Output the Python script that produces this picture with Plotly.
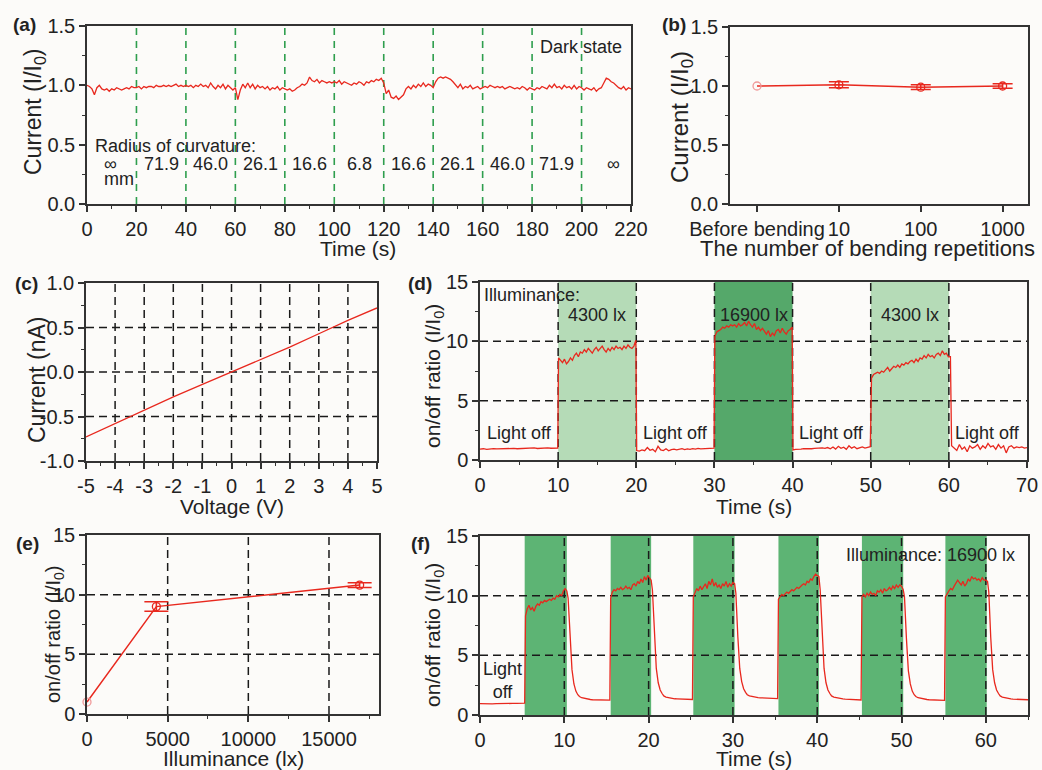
import numpy as np
import plotly.graph_objects as go

# ---------------- DATA ----------------
# (a) dark current vs time under bending, sampled every 1 s
time_a = list(range(0, 221))
current_a = (
    [1.00, 0.99, 0.97, 0.92, 0.98, 1.00] +
    [0.97, 0.96, 0.97, 0.95, 0.97, 0.96, 0.98, 0.97, 0.96, 0.97, 0.98, 0.97, 0.99, 0.98, 0.98] +
    [0.99, 0.97, 0.99, 0.98, 0.99, 0.99, 0.98, 1.00, 0.99, 0.99, 1.00, 0.99, 1.00, 0.99, 1.00, 1.01, 0.99, 1.00, 0.99, 1.00] +
    [0.99, 1.00, 0.98, 1.00, 0.99, 1.01, 0.99, 1.00, 0.98, 1.02, 0.99, 0.97, 1.00, 0.98, 1.01, 0.97, 1.00, 0.98, 0.96, 0.98] +
    [0.88, 0.96, 1.01, 0.98, 1.02, 0.98, 1.01, 0.97, 1.00, 0.98, 0.99, 0.97, 0.99, 0.96, 0.98, 0.97, 0.99, 0.96, 0.98, 0.97] +
    [0.96, 0.97, 0.95, 0.96, 0.98, 0.99, 1.01, 1.00, 1.02, 1.07, 1.04, 1.03, 1.05, 1.02, 1.04, 1.03, 1.02, 1.03, 1.02, 1.03] +
    [1.02, 1.04, 1.01, 1.03, 1.02, 1.01, 1.00, 1.02, 1.01, 1.03, 1.02, 1.00, 1.03, 1.02, 1.04, 1.03, 1.05, 1.04, 1.06, 1.02] +
    [0.93, 0.96, 0.90, 0.89, 0.91, 0.88, 0.90, 0.92, 0.97, 0.99, 0.97, 1.00, 0.98, 1.01, 0.99, 1.02, 0.99, 1.01, 1.00, 0.98] +
    [1.03, 1.06, 1.07, 1.06, 1.07, 1.06, 1.05, 1.03, 1.00, 0.98, 1.01, 0.97, 0.99, 0.98, 1.00, 0.97, 0.98, 0.99, 0.97, 0.98] +
    [0.99, 0.98, 1.00, 0.99, 0.98, 0.99, 0.98, 0.99, 0.97, 0.98, 0.99, 0.98, 0.97, 0.98, 0.97, 0.99, 0.98, 0.96, 0.98, 0.97] +
    [0.96, 0.98, 0.97, 0.99, 0.98, 0.97, 1.00, 0.98, 1.01, 0.98, 0.99, 0.97, 1.00, 0.98, 0.99, 0.97, 1.00, 0.97, 0.99, 0.98] +
    [0.96, 0.98, 0.97, 0.96, 0.98, 0.95, 0.97, 0.98, 1.02, 1.06, 1.05, 1.03, 1.02, 1.00, 0.98, 0.97, 0.99, 0.96, 0.98, 0.97]
)
bend_change_times = [20, 40, 60, 80, 100, 120, 140, 160, 180, 200]
radius_labels = ["\u221e", "71.9", "46.0", "26.1", "16.6", "6.8", "16.6", "26.1", "46.0", "71.9", "\u221e"]
radius_label_times = [9.5, 30, 50, 70, 90, 110, 130, 150, 170, 190, 213]

# (b) current after bending repetitions
bend_categories = ["Before bending", "10", "100", "1000"]
bend_current = [1.00, 1.01, 0.99, 1.00]
bend_error = [0.0, 0.025, 0.02, 0.02]

# (c) I-V curve
voltage_c = [-5, -4, -3, -2, -1, 0, 1, 2, 3, 4, 5]
current_c = [-0.73, -0.58, -0.43, -0.28, -0.14, 0.0, 0.14, 0.28, 0.43, 0.58, 0.72]

# (d) on/off ratio under different illuminance; segments (t_start, t_end, values)
d_segments = [
    (0.0, 9.95, [0.92, 0.95, 0.90, 0.94, 0.96, 0.93, 0.95, 0.97, 0.94, 0.96, 0.98, 0.95, 0.97, 1.00, 0.96, 0.99, 1.02, 0.97, 1.00, 0.98, 1.03, 0.99, 1.01, 1.00]),
    (10.05, 19.95, [8.6, 8.4, 8.2, 8.5, 8.1, 8.3, 8.6, 8.4, 8.8, 9.0, 8.7, 9.1, 9.0, 9.3, 9.1, 9.4, 9.2, 9.0, 9.3, 9.5,
                    9.2, 9.4, 9.6, 9.3, 9.1, 9.4, 9.2, 9.5, 9.3, 9.6, 9.4, 9.5, 9.3, 9.6, 9.4, 9.7, 9.5, 9.4, 9.6, 10.1]),
    (20.05, 29.95, [0.80, 0.75, 0.85, 0.78, 1.05, 0.82, 0.90, 0.70, 1.15, 0.85, 0.80, 0.95, 0.78, 0.88, 0.92,
                    0.85, 0.90, 0.95, 0.88, 0.93, 0.90, 0.95, 0.92, 0.98, 0.94, 0.96, 0.99, 0.95, 0.97, 1.00]),
    (30.05, 39.95, [10.4, 10.8, 10.9, 11.0, 11.2, 11.1, 11.3, 11.2, 11.4, 11.3, 11.4, 11.2, 11.5, 11.3, 11.4, 11.6, 11.3, 11.7, 11.4, 11.2,
                    11.5, 11.0, 11.2, 10.9, 11.1, 10.8, 10.6, 10.9, 10.4, 10.7, 10.5, 10.9, 11.0, 10.7, 11.1, 10.8, 10.6, 10.9, 11.0, 11.2]),
    (40.05, 49.95, [0.85, 0.90, 0.88, 0.92, 0.95, 0.93, 0.97, 0.95, 0.98, 1.00, 0.96, 1.02, 0.98, 1.05, 0.95,
                    1.10, 0.92, 1.15, 0.98, 1.08, 0.90, 1.20, 1.00, 1.12, 0.95, 1.05, 1.10, 1.00, 1.08, 1.12]),
    (50.1, 60.2, [6.9, 7.2, 7.3, 7.4, 7.3, 7.5, 7.4, 7.6, 7.8, 7.5, 7.7, 7.9, 7.8, 8.0, 7.8, 8.1, 8.0, 8.2, 8.1, 8.3,
                  8.4, 8.2, 8.5, 8.3, 8.6, 8.5, 8.8, 8.6, 8.9, 8.7, 8.8, 8.6, 8.9, 9.0, 8.8, 9.2, 8.9, 9.0, 8.7, 8.7]),
    (60.35, 70.0, [1.2, 1.0, 0.8, 1.3, 0.9, 1.1, 0.7, 1.2, 1.0, 1.1, 1.3, 0.9, 1.2, 1.0, 1.4,
                   1.1, 1.2, 0.9, 1.3, 1.0, 1.2, 0.6, 1.1, 1.2, 1.0, 1.1, 1.05, 1.1, 1.0, 1.05]),
]
d_light_periods = [(10, 20, "4300 lx", "light"), (30, 40, "16900 lx", "dark"), (50, 60, "4300 lx", "light")]

# (e) on/off ratio vs illuminance
illum_e = [0, 4300, 16900]
ratio_e = [1.0, 9.0, 10.8]
ratio_err_e = [0.0, 0.4, 0.2]

# (f) repeated switching at 16900 lx; segments (t_start, t_end, values)
f_segments = [
    (0.0, 5.3, [0.95, 0.93, 0.96, 0.94, 0.95, 0.97, 0.95, 0.96, 0.97, 0.98, 0.97, 0.99]),
    (5.4, 10.3, [8.3, 8.9, 9.2, 8.8, 9.0, 8.7, 9.1, 9.3, 9.2, 9.5, 9.4, 9.6, 9.5, 9.6, 9.7, 9.6, 9.8, 9.7, 10.0, 9.9, 10.1, 10.0, 10.4, 10.6, 10.4]),
    (10.45, 11.6, [9.8, 6.5, 3.8, 2.6, 2.0, 1.7]),
    (11.8, 15.4, [1.55, 1.45, 1.40, 1.35, 1.32, 1.30, 1.28, 1.27, 1.27, 1.26, 1.25, 1.25, 1.24, 1.25, 1.25]),
    (15.5, 20.3, [9.8, 10.3, 10.5, 10.4, 10.6, 10.5, 10.7, 10.5, 10.6, 10.8, 10.6, 10.7, 10.5, 10.9, 11.0, 10.8, 11.2, 11.0, 11.4, 11.1, 11.6, 11.3, 11.7, 11.5, 11.3]),
    (20.45, 21.6, [10.5, 6.8, 3.9, 2.7, 2.1, 1.8]),
    (21.8, 25.2, [1.6, 1.5, 1.45, 1.4, 1.38, 1.36, 1.35, 1.34, 1.33, 1.33, 1.32, 1.32, 1.31, 1.3]),
    (25.3, 30.2, [9.9, 10.3, 10.6, 10.4, 10.8, 10.5, 10.7, 11.0, 10.6, 11.2, 10.9, 11.4, 10.8, 11.1, 10.7, 10.9, 10.6, 11.0, 10.8, 11.2, 10.7, 11.0, 10.8, 11.1, 11.0]),
    (30.35, 31.5, [10.2, 6.6, 3.9, 2.8, 2.2, 1.9]),
    (31.7, 35.3, [1.7, 1.6, 1.55, 1.5, 1.47, 1.45, 1.44, 1.43, 1.42, 1.41, 1.40, 1.40, 1.39, 1.38, 1.38]),
    (35.4, 40.2, [9.7, 9.9, 10.1, 10.0, 10.2, 10.3, 10.2, 10.4, 10.5, 10.4, 10.6, 10.7, 10.6, 10.8, 10.9, 11.0, 10.9, 11.2, 11.1, 11.4, 11.3, 11.6, 11.8, 11.7, 11.6]),
    (40.35, 41.5, [10.5, 6.7, 3.9, 2.7, 2.1, 1.8]),
    (41.7, 45.2, [1.6, 1.5, 1.45, 1.4, 1.38, 1.35, 1.33, 1.32, 1.30, 1.29, 1.28, 1.27, 1.27, 1.26]),
    (45.3, 50.2, [9.9, 10.1, 9.9, 10.2, 10.0, 10.3, 10.1, 10.2, 10.0, 10.4, 10.3, 10.5, 10.2, 10.6, 10.4, 10.5, 10.7, 10.5, 10.8, 10.6, 10.9, 10.7, 10.9, 10.8, 10.5]),
    (50.35, 51.5, [9.9, 6.4, 3.7, 2.6, 2.0, 1.7]),
    (51.7, 55.1, [1.55, 1.45, 1.4, 1.35, 1.32, 1.30, 1.28, 1.27, 1.26, 1.25, 1.25, 1.24, 1.24, 1.23]),
    (55.2, 60.2, [9.9, 10.2, 10.4, 10.6, 10.5, 10.8, 11.0, 11.3, 11.1, 10.9, 11.2, 10.8, 11.0, 11.4, 11.2, 11.6, 11.4, 11.5, 11.3, 11.4, 11.2, 11.5, 11.3, 11.3, 11.2]),
    (60.35, 61.5, [10.3, 6.5, 3.8, 2.7, 2.1, 1.8]),
    (61.7, 65.0, [1.6, 1.5, 1.45, 1.4, 1.37, 1.35, 1.33, 1.32, 1.31, 1.30, 1.30, 1.29, 1.29, 1.28]),
]
f_light_periods = [(5.3, 10.3), (15.5, 20.3), (25.3, 30.2), (35.4, 40.2), (45.3, 50.2), (55.2, 60.1)]


def unpack(segments):
    t, v = [], []
    for t0, t1, vals in segments:
        t.extend(np.linspace(t0, t1, len(vals)).tolist())
        v.extend(vals)
    return t, v


time_d, ratio_d = unpack(d_segments)
time_f, ratio_f = unpack(f_segments)

# ---------------- STYLE ----------------
FONT = "Liberation Sans, Arial, sans-serif"
TXT = "#222222"
AX = "#333333"
RED = "#e8281e"
PINK = "#f09a9a"
BG = "#fcfbf9"
GREEN_DASH = "#2e9e4e"
LIGHT_GREEN = "#b5dbb7"
DARK_GREEN = "#55a86a"
F_GREEN = "#5db474"
W, H = 1042, 770


def px_x(p):
    return p / W


def px_y(p):
    return 1 - p / H


def axis(dom, rng, anchor, tickvals, ticktext, minor_dtick=None, minor_tick0=0, fs=20):
    d = dict(domain=dom, range=rng, anchor=anchor, automargin=False, showline=True, linecolor=AX, linewidth=1.5,
             mirror=True, ticks="outside", ticklen=6, tickwidth=1.5, tickcolor=AX,
             showgrid=False, zeroline=False, tickmode="array", tickvals=tickvals, ticktext=ticktext,
             tickangle=0, tickfont=dict(family=FONT, size=fs, color=TXT), fixedrange=True)
    if minor_dtick:
        d["minor"] = dict(ticks="outside", ticklen=3, tickwidth=1.2, tickcolor=AX,
                          dtick=minor_dtick, tick0=minor_tick0, showgrid=False)
    return d


fig = go.Figure()

line_style = dict(color=RED, width=1.3)
fig.add_trace(go.Scatter(x=time_a, y=current_a, mode="lines", line=line_style, xaxis="x", yaxis="y"))

# (b): line through all points, first (reference) point as a pale open circle, others with error bars
bx = [0, 1, 2, 3]
fig.add_trace(go.Scatter(x=bx, y=bend_current, mode="lines", line=dict(color=RED, width=1.5),
                         xaxis="x2", yaxis="y2"))
fig.add_trace(go.Scatter(x=bx[:1], y=bend_current[:1], mode="markers", cliponaxis=False,
                         marker=dict(symbol="circle-open", size=8, color=PINK, line=dict(width=1.3)),
                         xaxis="x2", yaxis="y2"))
fig.add_trace(go.Scatter(x=bx[1:], y=bend_current[1:], mode="markers", cliponaxis=False,
                         marker=dict(symbol="circle-open", size=8, color=RED, line=dict(width=1.3)),
                         error_y=dict(type="data", array=bend_error[1:], color=RED, thickness=1.5, width=10),
                         xaxis="x2", yaxis="y2"))

fig.add_trace(go.Scatter(x=voltage_c, y=current_c, mode="lines", line=line_style, xaxis="x3", yaxis="y3"))
fig.add_trace(go.Scatter(x=time_d, y=ratio_d, mode="lines", line=line_style, xaxis="x4", yaxis="y4"))

# (e)
fig.add_trace(go.Scatter(x=illum_e, y=ratio_e, mode="lines", line=dict(color=RED, width=1.5), cliponaxis=False,
                         xaxis="x5", yaxis="y5"))
fig.add_trace(go.Scatter(x=illum_e[:1], y=ratio_e[:1], mode="markers", cliponaxis=False,
                         marker=dict(symbol="circle-open", size=8, color=PINK, line=dict(width=1.3)),
                         xaxis="x5", yaxis="y5"))
fig.add_trace(go.Scatter(x=illum_e[1:], y=ratio_e[1:], mode="markers", cliponaxis=False,
                         marker=dict(symbol="circle-open", size=8, color=RED, line=dict(width=1.3)),
                         error_y=dict(type="data", array=ratio_err_e[1:], color=RED, thickness=1.5, width=12),
                         xaxis="x5", yaxis="y5"))

fig.add_trace(go.Scatter(x=time_f, y=ratio_f, mode="lines", line=line_style, xaxis="x6", yaxis="y6"))

# domains (pixel based)
dom_a = ([px_x(87), px_x(631)], [px_y(204), px_y(26)])
dom_b = ([px_x(730), px_x(1028)], [px_y(204), px_y(27)])
dom_c = ([px_x(86), px_x(377)], [px_y(461), px_y(283)])
dom_d = ([px_x(480), px_x(1027)], [px_y(460), px_y(282)])
dom_e = ([px_x(87), px_x(379)], [px_y(714), px_y(535)])
dom_f = ([px_x(480), px_x(1028)], [px_y(715), px_y(536)])

xt_a = list(range(0, 221, 20))
yt_15 = [0, 0.5, 1.0, 1.5]
yt_15_txt = ["0.0", "0.5", "1.0", "1.5"]
xt_c = [-5, -4, -3, -2, -1, 0, 1, 2, 3, 4, 5]
yt_c = [-1.0, -0.5, 0.0, 0.5, 1.0]
yt_c_txt = ["-1.0", "-0.5", "0.0", "0.5", "1.0"]
yt_ratio = [0, 5, 10, 15]
xt_d = [0, 10, 20, 30, 40, 50, 60, 70]
xt_e = [0, 5000, 10000, 15000]
xt_f = [0, 10, 20, 30, 40, 50, 60]

layout = dict(
    width=W, height=H, margin=dict(l=0, r=0, t=0, b=0, autoexpand=False), showlegend=False,
    paper_bgcolor=BG, plot_bgcolor=BG,
    font=dict(family=FONT, size=20, color=TXT),
    xaxis=axis(dom_a[0], [0, 220], "y", xt_a, [str(v) for v in xt_a], 10),
    yaxis=axis(dom_a[1], [0, 1.5], "x", yt_15, yt_15_txt, 0.25),
    xaxis2=axis(dom_b[0], [-0.33, 3.31], "y2", bx, bend_categories, None),
    yaxis2=axis(dom_b[1], [0, 1.5], "x2", yt_15, yt_15_txt, 0.25),
    xaxis3=axis(dom_c[0], [-5, 5], "y3", xt_c, [str(v) for v in xt_c], 0.5),
    yaxis3=axis(dom_c[1], [-1, 1], "x3", yt_c, yt_c_txt, 0.25),
    xaxis4=axis(dom_d[0], [0, 70], "y4", xt_d, [str(v) for v in xt_d], 5),
    yaxis4=axis(dom_d[1], [0, 15], "x4", yt_ratio, [str(v) for v in yt_ratio], 2.5),
    xaxis5=axis(dom_e[0], [0, 18100], "y5", xt_e, [str(v) for v in xt_e], 2500),
    yaxis5=axis(dom_e[1], [0, 15], "x5", yt_ratio, [str(v) for v in yt_ratio], 2.5),
    xaxis6=axis(dom_f[0], [0, 65], "y6", xt_f, [str(v) for v in xt_f], 5),
    yaxis6=axis(dom_f[1], [0, 15], "x6", yt_ratio, [str(v) for v in yt_ratio], 2.5),
)
fig.update_layout(**layout)

shapes = []
blk_dash = dict(color="#1a1a1a", width=1.5, dash="8px,5px")


def vline(x, xr, yr, line):
    shapes.append(dict(type="line", xref=xr, yref=yr + " domain", x0=x, x1=x, y0=0, y1=1, line=line, layer="below"))


def hline(y, xr, yr, line):
    shapes.append(dict(type="line", xref=xr + " domain", yref=yr, x0=0, x1=1, y0=y, y1=y, line=line, layer="below"))


for t in bend_change_times:
    vline(t, "x", "y", dict(color=GREEN_DASH, width=1.6, dash="7px,6px"))

for v in [-4, -3, -2, -1, 0, 1, 2, 3, 4]:
    vline(v, "x3", "y3", blk_dash)
for v in [-0.5, 0, 0.5]:
    hline(v, "x3", "y3", blk_dash)

for t0, t1, lab, kind in d_light_periods:
    shapes.append(dict(type="rect", xref="x4", yref="y4 domain", x0=t0, x1=t1, y0=0, y1=1,
                       fillcolor=LIGHT_GREEN if kind == "light" else DARK_GREEN, line=dict(width=0), layer="below"))
for v in [10, 20, 30, 40, 50, 60]:
    vline(v, "x4", "y4", blk_dash)
for v in [5, 10]:
    hline(v, "x4", "y4", blk_dash)

for v in [5000, 10000, 15000]:
    vline(v, "x5", "y5", blk_dash)
for v in [5, 10]:
    hline(v, "x5", "y5", blk_dash)

for t0, t1 in f_light_periods:
    shapes.append(dict(type="rect", xref="x6", yref="y6 domain", x0=t0, x1=t1, y0=0, y1=1,
                       fillcolor=F_GREEN, line=dict(width=0), layer="below"))
for v in [10, 20, 30, 40, 50, 60]:
    vline(v, "x6", "y6", blk_dash)
for v in [5, 10]:
    hline(v, "x6", "y6", blk_dash)

fig.update_layout(shapes=shapes)

ann = []


def paper_text(text, x, y, size=20, bold=False, angle=0, xanchor="center"):
    ann.append(dict(text=("<b>%s</b>" % text) if bold else text, x=px_x(x), y=px_y(y), xref="paper", yref="paper",
                    showarrow=False, textangle=angle, xanchor=xanchor, yanchor="middle",
                    font=dict(family=FONT, size=size, color=TXT)))


def data_text(text, x, y, xr, yr, size=18, xanchor="center"):
    ann.append(dict(text=text, x=x, y=y, xref=xr, yref=yr, showarrow=False, xanchor=xanchor, yanchor="middle",
                    font=dict(family=FONT, size=size, color=TXT)))


for lab, x, y in [("(a)", 24, 24), ("(b)", 674, 24), ("(c)", 26, 283), ("(d)", 420, 283), ("(e)", 27, 543), ("(f)", 420, 543)]:
    paper_text(lab, x, y, size=19, bold=True)

paper_text("Time (s)", 358, 249, size=21)
paper_text("The number of bending repetitions", 867, 249, size=22)
paper_text("Voltage (V)", 232, 506, size=21)
paper_text("Time (s)", 754, 506, size=21)
paper_text("Illuminance (lx)", 233, 758, size=21)
paper_text("Time (s)", 754, 758, size=21)
paper_text("Current (I/I<sub>0</sub>)", 34, 112, size=23, angle=-90)
paper_text("Current (I/I<sub>0</sub>)", 681, 117, size=24, angle=-90)
paper_text("Current (nA)", 37, 380, size=23, angle=-90)
paper_text("on/off ratio (I/I<sub>0</sub>)", 434, 376, size=21, angle=-90)
paper_text("on/off ratio (I/I<sub>0</sub>)", 54, 634, size=20, angle=-90)
paper_text("on/off ratio (I/I<sub>0</sub>)", 434, 635, size=21, angle=-90)

data_text("Dark state", 182.5, 1.32, "x", "y", xanchor="left")
data_text("Radius of curvature:", 2.4, 0.49, "x", "y", xanchor="left")
for lab, t in zip(radius_labels, radius_label_times):
    data_text(lab, t, 0.34, "x", "y")
data_text("mm", 13, 0.21, "x", "y")

data_text("Illuminance:", 0.3, 13.9, "x4", "y4", xanchor="left")
for t0, t1, lab, kind in d_light_periods:
    data_text(lab, (t0 + t1) / 2, 12.2, "x4", "y4")
for t in [5, 25, 45, 65]:
    data_text("Light off", t, 2.3, "x4", "y4")

data_text("Illuminance: 16900 lx", 63.7, 13.4, "x6", "y6", xanchor="right")
data_text("Light<br>off", 2.7, 2.85, "x6", "y6")

fig.update_layout(annotations=ann)
fig.write_html("out.html")
